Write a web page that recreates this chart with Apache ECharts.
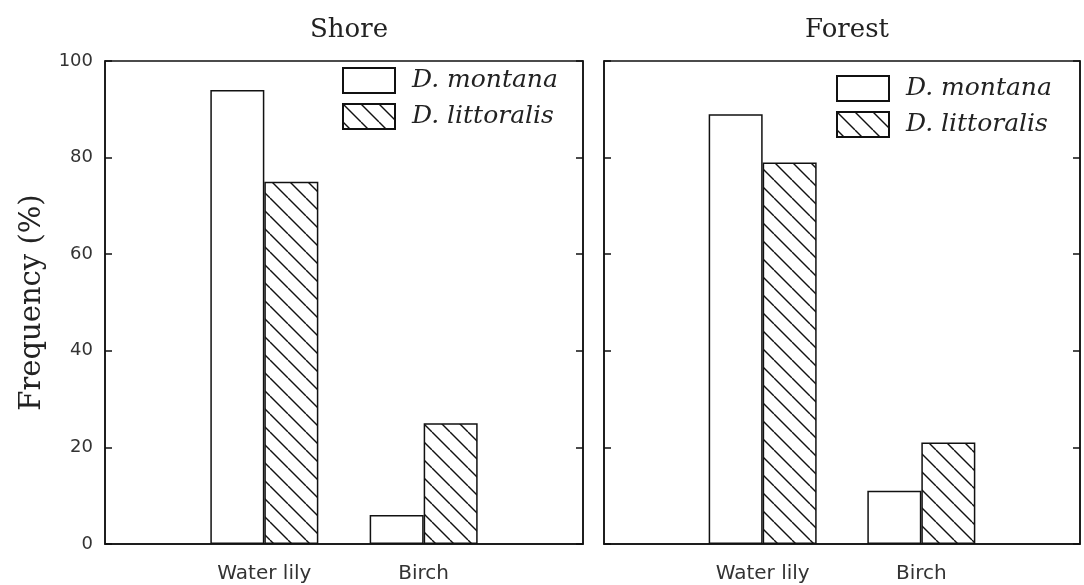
<!DOCTYPE html>
<html>
<head>
<meta charset="utf-8">
<script src="https://cdn.jsdelivr.net/npm/echarts@6/dist/echarts.min.js"></script>
<style>
  html, body { margin: 0; padding: 0; background: #fff; }
  #chart { width: 1084px; height: 585px; }
</style>
</head>
<body>
<div id="chart"></div>
<script>
// data
var categories = ['', 'Water lily', 'Birch', ''];
var yTicks = [0, 20, 40, 60, 80, 100];
var shoreMontana = [null, 94, 6, null];
var shoreLittoralis = [null, 75, 25, null];
var forestMontana = [null, 89, 11, null];
var forestLittoralis = [null, 79, 21, null];

var chart = echarts.init(document.getElementById('chart'));

// diagonal hatch for D. littoralis
function hatch() {
  var s = 18, c = document.createElement('canvas');
  c.width = s; c.height = s;
  var g = c.getContext('2d');
  g.fillStyle = '#fff';
  g.fillRect(0, 0, s, s);
  g.strokeStyle = '#111';
  g.lineWidth = 1.4;
  [-s, 0, s].forEach(function (k) {
    g.beginPath();
    g.moveTo(k, 0);
    g.lineTo(k + s, s);
    g.stroke();
  });
  return { image: c, repeat: 'repeat' };
}
var hatchFill = hatch();

var sans = '"DejaVu Sans", sans-serif';
var serif = '"DejaVu Serif", serif';

function xAxis(idx) {
  return {
    type: 'category',
    gridIndex: idx,
    data: categories,
    boundaryGap: false,
    axisLine: { lineStyle: { color: '#111', width: 1.5 } },
    axisTick: { show: false },
    axisLabel: { fontFamily: sans, fontSize: 20, color: '#333', margin: 20 }
  };
}

function yAxis(idx, pos, labels, name) {
  return {
    type: 'value',
    gridIndex: idx,
    position: pos,
    min: 0,
    max: 100,
    interval: 20,
    name: name || '',
    nameLocation: 'middle',
    nameGap: 58,
    nameTextStyle: { fontFamily: serif, fontSize: 29, color: '#222' },
    axisLine: { show: true, lineStyle: { color: '#111', width: 1.5 } },
    axisTick: { show: true, inside: true, length: 7, lineStyle: { color: '#111', width: 1.5 } },
    axisLabel: { show: labels, fontFamily: sans, fontSize: 18, color: '#333', margin: 12 },
    splitLine: { show: false }
  };
}

function bars(name, data, idx, fill) {
  return {
    name: name,
    type: 'bar',
    xAxisIndex: idx,
    yAxisIndex: idx * 2,
    data: data,
    barWidth: 54,
    barGap: '0%',
    itemStyle: { color: fill, borderColor: '#111', borderWidth: 1.5 }
  };
}

function legend(left, top) {
  return {
    left: left,
    top: top,
    padding: 0,
    orient: 'vertical',
    icon: 'rect',
    itemWidth: 52,
    itemHeight: 25,
    itemGap: 9,
    data: ['D. montana', 'D. littoralis'],
    textStyle: {
      fontFamily: serif,
      fontStyle: 'italic',
      fontSize: 25,
      color: '#222',
      padding: [0, 0, 0, 12]
    }
  };
}

chart.setOption({
  animation: false,
  title: [
    { text: 'Shore', left: 344, top: 12, textAlign: 'center',
      textStyle: { fontFamily: serif, fontSize: 26, fontWeight: 'normal', color: '#222' } },
    { text: 'Forest', left: 842, top: 12, textAlign: 'center',
      textStyle: { fontFamily: serif, fontSize: 26, fontWeight: 'normal', color: '#222' } }
  ],
  legend: [legend(342, 67), legend(836, 75)],
  grid: [
    { left: 105, right: 501, top: 61, bottom: 41, show: true, borderColor: '#111', borderWidth: 1.5 },
    { left: 604, right: 4, top: 61, bottom: 41, show: true, borderColor: '#111', borderWidth: 1.5 }
  ],
  xAxis: [xAxis(0), xAxis(1)],
  yAxis: [
    yAxis(0, 'left', true, 'Frequency (%)'),
    yAxis(0, 'right', false),
    yAxis(1, 'left', false),
    yAxis(1, 'right', false)
  ],
  series: [
    bars('D. montana', shoreMontana, 0, '#fff'),
    bars('D. littoralis', shoreLittoralis, 0, hatchFill),
    bars('D. montana', forestMontana, 1, '#fff'),
    bars('D. littoralis', forestLittoralis, 1, hatchFill)
  ]
});
</script>
</body>
</html>
